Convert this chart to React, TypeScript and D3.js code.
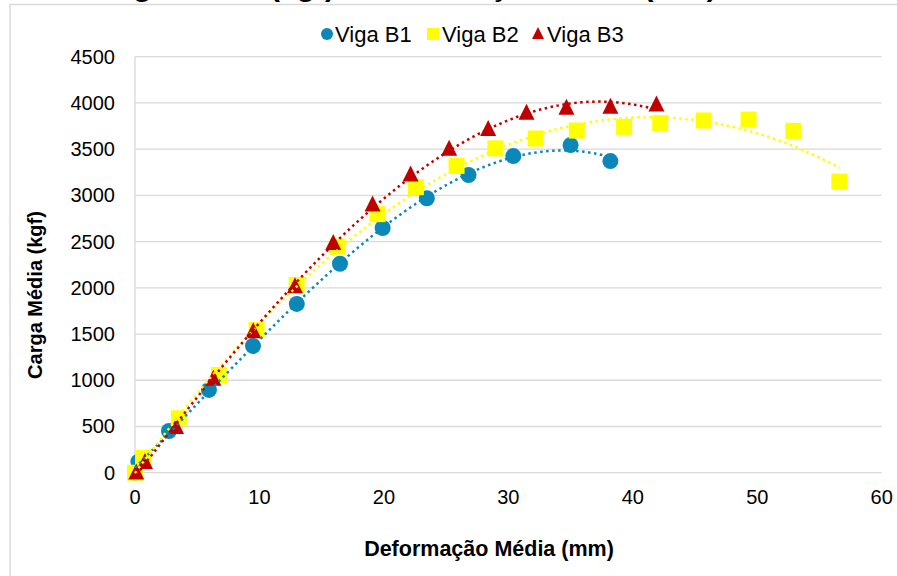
import React from "react";
import * as d3 from "d3";

const seriesNames = ["Viga B1", "Viga B2", "Viga B3"];
const colors = ["#0B87B8", "#FFFF00", "#C00000"];

const b1X = [0, 0.27, 2.73, 5.94, 9.48, 13.0, 16.47, 19.9, 23.45, 26.8, 30.4, 35.0, 38.2];
const b1Y = [0, 119, 451, 895, 1371, 1826, 2260, 2647, 2969, 3220, 3425, 3544, 3371];

const b2X = [0, 0.65, 3.53, 6.75, 9.77, 12.99, 16.28, 19.49, 22.57, 25.84, 28.95, 32.2, 35.5, 39.3, 42.2, 45.7, 49.3, 52.9, 56.6];
const b2Y = [0, 160, 589, 1057, 1544, 2031, 2446, 2797, 3089, 3319, 3509, 3615, 3701, 3741, 3781, 3810, 3820, 3698, 3149];

const b3X = [0.1, 0.8, 3.3, 6.3, 9.5, 12.85, 15.93, 19.09, 22.14, 25.24, 28.38, 31.46, 34.67, 38.2, 41.9];
const b3Y = [0, 113, 491, 1014, 1526, 2013, 2483, 2897, 3222, 3500, 3716, 3890, 3944, 3955, 3979];

const xTicks = [0, 10, 20, 30, 40, 50, 60];
const yTicks = [0, 500, 1000, 1500, 2000, 2500, 3000, 3500, 4000, 4500];

const titleText = "Carga Média (kgf) x Deformação Média (mm)";
const xTitle = "Deformação Média (mm)";
const yTitle = "Carga Média (kgf)";

// least-squares polynomial fit (Excel-style trendline)
function polyFit(xs: number[], ys: number[], order: number): number[] {
  const n = order + 1;
  const A: number[][] = [];
  for (let i = 0; i < n; i++) {
    A.push(new Array(n + 1).fill(0));
  }
  for (let k = 0; k < xs.length; k++) {
    for (let i = 0; i < n; i++) {
      for (let j = 0; j < n; j++) A[i][j] += Math.pow(xs[k], i + j);
      A[i][n] += ys[k] * Math.pow(xs[k], i);
    }
  }
  for (let i = 0; i < n; i++) {
    let p = i;
    for (let r = i + 1; r < n; r++) if (Math.abs(A[r][i]) > Math.abs(A[p][i])) p = r;
    [A[i], A[p]] = [A[p], A[i]];
    for (let r = 0; r < n; r++) {
      if (r === i) continue;
      const f = A[r][i] / A[i][i];
      for (let c = i; c <= n; c++) A[r][c] -= f * A[i][c];
    }
  }
  return A.map((row, i) => row[n] / row[i]);
}

export default function App() {
  const W = 897, H = 576;
  const x = d3.scaleLinear().domain([0, 60]).range([135, 881.7]);
  const y = d3.scaleLinear().domain([0, 4500]).range([472.7, 56.7]);
  const font = "Arial, 'Liberation Sans', sans-serif";
  const grid = "#D9D9D9";

  const series = [
    { xs: b1X, ys: b1Y },
    { xs: b2X, ys: b2Y },
    { xs: b3X, ys: b3Y },
  ];

  const trend = series.map((s) => {
    const c = polyFit(s.xs, s.ys, 3);
    const x0 = d3.min(s.xs) as number;
    const x1 = d3.max(s.xs) as number;
    const pts = d3.range(0, 201).map((i) => {
      const xv = x0 + ((x1 - x0) * i) / 200;
      const yv = c.reduce((acc, ci, k) => acc + ci * Math.pow(xv, k), 0);
      return [xv, yv] as [number, number];
    });
    return d3.line<[number, number]>().x((d) => x(d[0])).y((d) => y(d[1]))(pts) || "";
  });

  const tri = (s: number) => `M0,${-s * 0.58}L${s * 0.5},${s * 0.42}L${-s * 0.5},${s * 0.42}Z`;

  const marker = (i: number, cx: number, cy: number, size: number, key: string) => {
    if (i === 0) return <circle key={key} cx={cx} cy={cy} r={size / 2} fill={colors[0]} />;
    if (i === 1)
      return <rect key={key} x={cx - size / 2} y={cy - size / 2} width={size} height={size} fill={colors[1]} />;
    return <path key={key} d={tri(size)} transform={`translate(${cx},${cy})`} fill={colors[2]} />;
  };

  const legendItems = [
    { mx: 327, tx: 335 },
    { mx: 433, tx: 442 },
    { mx: 538, tx: 547 },
  ];

  return (
    <svg width={W} height={H} style={{ position: "absolute", left: 0, top: 0, background: "#fff" }} fontFamily={font}>
      <rect x={0} y={0} width={W} height={H} fill="#fff" />
      <text x={400} y={-4.5} textAnchor="middle" fontSize={30} fontWeight="bold" fill="#000">
        {titleText}
      </text>
      <path d={`M10,${H + 5}V4.5H${W + 5}`} fill="none" stroke={grid} strokeWidth={1.5} />

      {yTicks.map((t) => (
        <line key={"g" + t} x1={x(0)} x2={x(60)} y1={y(t)} y2={y(t)} stroke={grid} strokeWidth={1.3} />
      ))}
      <line x1={x(0)} x2={x(0)} y1={y(4500)} y2={y(0)} stroke={grid} strokeWidth={1.3} />

      {yTicks.map((t) => (
        <text key={"yt" + t} x={115} y={y(t)} dy="0.35em" textAnchor="end" fontSize={20} fill="#000">
          {t}
        </text>
      ))}
      {xTicks.map((t) => (
        <text key={"xt" + t} x={x(t)} y={504} textAnchor="middle" fontSize={20} fill="#000">
          {t}
        </text>
      ))}

      <text x={489} y={556} textAnchor="middle" fontSize={21.5} fontWeight="bold" fill="#000">
        {xTitle}
      </text>
      <text transform="translate(42,295) rotate(-90)" textAnchor="middle" fontSize={20} fontWeight="bold" fill="#000">
        {yTitle}
      </text>

      {series.map((s, i) => (
        <g key={"s" + i}>{s.xs.map((xv, k) => marker(i, x(xv), y(s.ys[k]), 16, `m${i}-${k}`))}</g>
      ))}

      {trend.map((d, i) => (
        <path
          key={"t" + i}
          d={d}
          fill="none"
          stroke={colors[i]}
          strokeWidth={2.5}
          strokeDasharray="2.5 3.5"
        />
      ))}

      {legendItems.map((l, i) => (
        <g key={"l" + i}>
          {marker(i, l.mx, 34, 12, "lm" + i)}
          <text x={l.tx} y={41.5} fontSize={22} fill="#000">
            {seriesNames[i]}
          </text>
        </g>
      ))}
    </svg>
  );
}
